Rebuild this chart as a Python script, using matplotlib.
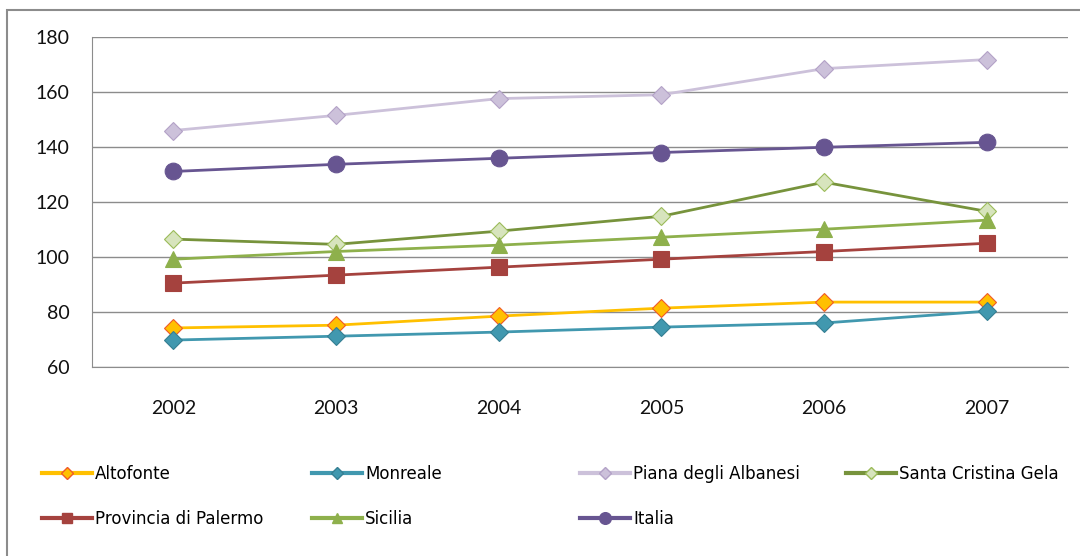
import matplotlib.pyplot as plt
from matplotlib.patches import Rectangle
from matplotlib.lines import Line2D

# values
years = ['2002', '2003', '2004', '2005', '2006', '2007']
altofonte = [74.2, 75.2, 78.5, 81.4, 83.6, 83.6]
monreale = [69.8, 71.2, 72.7, 74.5, 76.0, 80.3]
piana = [146.0, 151.5, 157.6, 159.0, 168.5, 171.8]
santa_cristina = [106.5, 104.6, 109.4, 114.8, 127.2, 116.6]
provincia = [90.5, 93.4, 96.3, 99.2, 102.0, 105.0]
sicilia = [99.2, 102.0, 104.3, 107.2, 110.1, 113.4]
italia = [131.1, 133.7, 135.9, 138.0, 139.9, 141.7]

y_ticks = [60, 80, 100, 120, 140, 160, 180]

# label, values, line colour, marker, size, face, edge
series = [
    ('Altofonte', altofonte, '#FFC000', 'D', 9, '#FFC000', '#F05A28'),
    ('Monreale', monreale, '#4198AF', 'D', 9, '#4198AF', '#357F93'),
    ('Piana degli Albanesi', piana, '#CCC1DA', 'D', 9, '#CCC1DA', '#B3A2C7'),
    ('Santa Cristina Gela', santa_cristina, '#77933C', 'D', 9, '#D7E4BD', '#9BBB59'),
    ('Provincia di Palermo', provincia, '#A5423E', 's', 11, '#A5423E', '#A5423E'),
    ('Sicilia', sicilia, '#8EB04C', '^', 11, '#8EB04C', '#8EB04C'),
    ('Italia', italia, '#675591', 'o', 12, '#675591', '#675591'),
]

tick_font = ['Lato', 'DejaVu Sans']
legend_font = ['Liberation Sans Narrow', 'DejaVu Sans']

fig = plt.figure(figsize=(10.8, 5.56), dpi=100)
fig.patches.append(Rectangle((7 / 1080, -0.1), 1.2, (556 - 10) / 556 + 0.1,
                             transform=fig.transFigure, fill=False,
                             edgecolor='#8C8C8C', linewidth=1.5))

ax = fig.add_axes([92 / 1080, 1 - 367 / 556, 976 / 1080, 330 / 556])
x = list(range(len(years)))
for i, (name, vals, col, mk, ms, fc, ec) in enumerate(series):
    ax.plot(x, vals, color=col, linewidth=2.0, marker=mk, markersize=ms,
            markerfacecolor=fc, markeredgecolor=ec, markeredgewidth=0.8,
            zorder=3 + i, label=name)

ax.set_xlim(-0.5, len(years) - 0.5)
ax.set_ylim(60, 180)
ax.set_yticks(y_ticks)
ax.set_xticks(x)
ax.set_xticklabels(years)
ax.grid(axis='y', color='#8C8C8C', linewidth=1)
ax.set_axisbelow(True)
for side in ['top', 'right']:
    ax.spines[side].set_visible(False)
ax.spines['left'].set_color('#8C8C8C')
ax.spines['bottom'].set_color('#8C8C8C')
ax.tick_params(length=0, labelsize=14)
ax.tick_params(axis='x', pad=24)
ax.tick_params(axis='y', pad=16)
for lab in ax.get_xticklabels() + ax.get_yticklabels():
    lab.set_family(tick_font)
    lab.set_color('#111111')

# legend: Excel style columns at fixed positions
columns = [(42, [0, 4]), (312, [1, 5]), (580, [2, 6]), (846, [3])]
for xpix, idx in columns:
    hs = []
    for j in idx:
        name, vals, col, mk, ms, fc, ec = series[j]
        hs.append(Line2D([], [], color=col, linewidth=3, marker=mk,
                         markersize=ms * 0.7, markerfacecolor=fc,
                         markeredgecolor=ec, label=name))
    fig.legend(handles=hs, loc='upper left',
               bbox_to_anchor=(xpix / 1080, 1 - 465 / 556),
               frameon=False, borderpad=0, borderaxespad=0,
               handlelength=3.0, handletextpad=0.2, labelspacing=1.6,
               prop={'family': legend_font, 'size': 12})

fig.savefig('out.png', dpi=100)
